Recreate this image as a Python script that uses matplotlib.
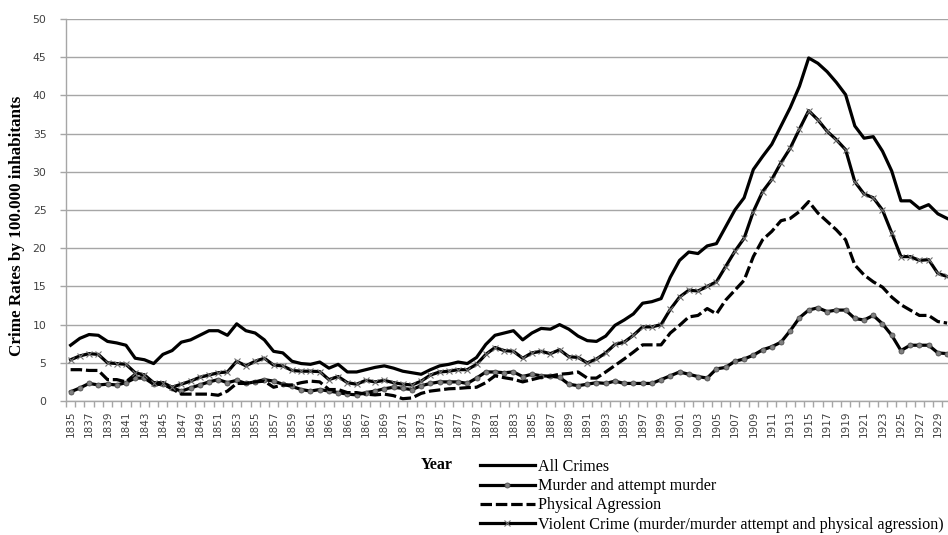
import matplotlib
matplotlib.use("Agg")
import matplotlib.pyplot as plt
from matplotlib.lines import Line2D
import numpy as np

years = list(range(1835, 1931))

all_crimes = [7.3, 8.2, 8.7, 8.6, 7.8, 7.6, 7.3, 5.6, 5.4, 4.9,
              6.1, 6.6, 7.7, 8.0, 8.6, 9.2, 9.2, 8.6, 10.1, 9.2,
              8.9, 8.0, 6.5, 6.3, 5.2, 4.9, 4.8, 5.1, 4.3, 4.8,
              3.8, 3.8, 4.1, 4.4, 4.6, 4.3, 3.9, 3.7, 3.5, 4.1,
              4.6, 4.8, 5.1, 4.9, 5.7, 7.4, 8.6, 8.9, 9.2, 8.0,
              8.9, 9.5, 9.4, 10.0, 9.4, 8.5, 7.9, 7.8, 8.5, 9.9,
              10.6, 11.4, 12.8, 13.0, 13.4, 16.2, 18.4, 19.5, 19.3, 20.3,
              20.6, 22.8, 25.0, 26.6, 30.3, 32.0, 33.6, 36.0, 38.4, 41.2,
              44.9, 44.2, 43.1, 41.7, 40.1, 36.0, 34.4, 34.6, 32.7, 30.1,
              26.2, 26.2, 25.2, 25.7, 24.5, 23.9]

murder = [1.2, 1.7, 2.3, 2.1, 2.2, 2.1, 2.4, 3.0, 3.0, 2.2,
          2.2, 1.7, 1.3, 1.7, 2.1, 2.5, 2.8, 2.4, 2.7, 2.3,
          2.5, 2.8, 2.6, 2.2, 1.9, 1.5, 1.3, 1.5, 1.3, 1.1,
          0.9, 0.8, 1.1, 1.3, 1.6, 1.8, 1.65, 1.5, 2.0, 2.3,
          2.5, 2.5, 2.5, 2.3, 3.0, 3.8, 3.8, 3.7, 3.8, 3.2,
          3.5, 3.3, 3.25, 3.1, 2.2, 2.0, 2.2, 2.4, 2.3, 2.6,
          2.3, 2.3, 2.3, 2.3, 2.8, 3.3, 3.8, 3.5, 3.2, 3.0,
          4.2, 4.4, 5.2, 5.5, 6.0, 6.7, 7.1, 7.7, 9.2, 10.9,
          11.9, 12.2, 11.7, 11.9, 11.9, 10.8, 10.6, 11.2, 10.1, 8.6,
          6.6, 7.3, 7.3, 7.3, 6.3, 6.2]

physical = [4.1, 4.1, 4.0, 4.0, 2.8, 2.8, 2.5, 3.5, 3.4, 2.2,
            2.2, 1.6, 0.9, 0.9, 0.9, 0.9, 0.75, 1.3, 2.3, 2.3,
            2.5, 2.6, 1.8, 2.1, 2.1, 2.4, 2.6, 2.5, 1.5, 1.5,
            1.1, 1.1, 0.9, 0.8, 0.9, 0.7, 0.3, 0.4, 1.0, 1.3,
            1.45, 1.6, 1.65, 1.75, 1.8, 2.4, 3.3, 3.05, 2.85, 2.5,
            2.8, 3.1, 3.25, 3.5, 3.6, 3.8, 3.0, 3.0, 3.8, 4.65,
            5.5, 6.4, 7.35, 7.35, 7.35, 8.9, 9.9, 11.0, 11.2, 12.1,
            11.4, 13.2, 14.5, 15.8, 18.9, 21.1, 22.2, 23.6, 23.9, 24.8,
            26.1, 24.6, 23.5, 22.4, 21.1, 17.8, 16.5, 15.6, 14.9, 13.6,
            12.6, 11.9, 11.2, 11.2, 10.4, 10.2]

violent = [5.4, 5.9, 6.2, 6.1, 5.0, 4.9, 4.8, 3.7, 3.4, 2.4,
           2.4, 1.8, 2.2, 2.6, 3.1, 3.4, 3.7, 3.8, 5.2, 4.6,
           5.2, 5.6, 4.7, 4.6, 4.0, 3.9, 3.9, 3.85, 2.8, 3.2,
           2.4, 2.2, 2.7, 2.5, 2.7, 2.4, 2.2, 2.1, 2.6, 3.4,
           3.8, 3.9, 4.1, 4.1, 4.8, 6.1, 7.0, 6.6, 6.5, 5.6,
           6.3, 6.5, 6.2, 6.7, 5.8, 5.7, 5.0, 5.5, 6.3, 7.4,
           7.7, 8.6, 9.7, 9.7, 10.0, 12.0, 13.6, 14.5, 14.4, 15.0,
           15.6, 17.6, 19.6, 21.3, 24.8, 27.4, 29.0, 31.2, 33.1, 35.6,
           38.0, 36.8, 35.3, 34.2, 32.9, 28.7, 27.1, 26.6, 25.0, 22.0,
           18.9, 18.9, 18.4, 18.5, 16.7, 16.3]

series_labels = ["All Crimes", "Murder and attempt murder", "Physical Agression",
                 "Violent Crime (murder/murder attempt and physical agression)"]

fig = plt.figure(figsize=(9.48, 5.35), dpi=100)
ax = fig.add_axes([66/948, 1-401/535, 1-66/948, (401-19)/535])

grid_c = "#a6a6a6"
lw = 2.3
dash = (3.6, 1.2)
ax.plot(years, all_crimes, color="black", lw=lw, solid_joinstyle="round", zorder=5)
ax.plot(years, murder, color="black", lw=lw, marker="o", markersize=3.6,
        markerfacecolor="#808080", markeredgecolor="#505050", markeredgewidth=0.6, zorder=5)
ax.plot(years, physical, color="black", lw=lw, dashes=dash, zorder=5)
ax.plot(years, violent, color="black", lw=lw, marker="x", markersize=5,
        markeredgecolor="#707070", markeredgewidth=0.8, zorder=5)

ax.set_xlim(1834.5, 1930.1)
ax.set_ylim(0, 50)
ax.set_yticks(np.arange(0, 51, 5))
ax.yaxis.grid(True, color=grid_c, lw=1.0)
ax.set_axisbelow(True)

odd_years = [y for y in years if y % 2 == 1]
ax.set_xticks(odd_years)
ax.set_xticklabels([str(y) for y in odd_years], rotation=90, fontsize=7.5,
                   color="#404040", family="DejaVu Sans")
ax.set_xticks([y - 0.5 for y in years], minor=True)
ax.tick_params(axis="x", which="major", length=0, pad=7)
ax.tick_params(axis="x", which="minor", length=4, color=grid_c, width=1)
ax.tick_params(axis="y", length=4, color=grid_c, width=1, labelsize=7.8,
               labelcolor="#404040", pad=10)
for lab in ax.get_yticklabels():
    lab.set_family("DejaVu Sans")

for s in ["top", "right"]:
    ax.spines[s].set_visible(False)
ax.spines["left"].set_color(grid_c)
ax.spines["bottom"].set_color(grid_c)
ax.spines["left"].set_linewidth(1)
ax.spines["bottom"].set_linewidth(1)

fig.text(17/948, 1-226/535, "Crime Rates by 100.000 inhabitants", rotation=90,
         ha="center", va="center", fontsize=12.3, fontweight="bold",
         family="Liberation Serif")
fig.text(437/948, 1-465/535, "Year", ha="center", va="center", fontsize=11.5,
         fontweight="bold", family="Liberation Serif")

handles = [
    Line2D([], [], color="black", lw=lw),
    Line2D([], [], color="black", lw=lw, marker="o", markersize=3.6,
           markerfacecolor="#808080", markeredgecolor="#505050", markeredgewidth=0.6),
    Line2D([], [], color="black", lw=lw, dashes=dash),
    Line2D([], [], color="black", lw=lw, marker="x", markersize=5,
           markeredgecolor="#707070", markeredgewidth=0.8),
]
fig.legend(handles, series_labels, loc="upper left", bbox_to_anchor=(480/948, 1-459/535),
           frameon=False, prop={"family": "Liberation Serif", "size": 11.6},
           handlelength=3.4, handletextpad=0.2, labelspacing=0.2, borderpad=0,
           borderaxespad=0, markerscale=1.0)

fig.savefig("out.png", dpi=100)
